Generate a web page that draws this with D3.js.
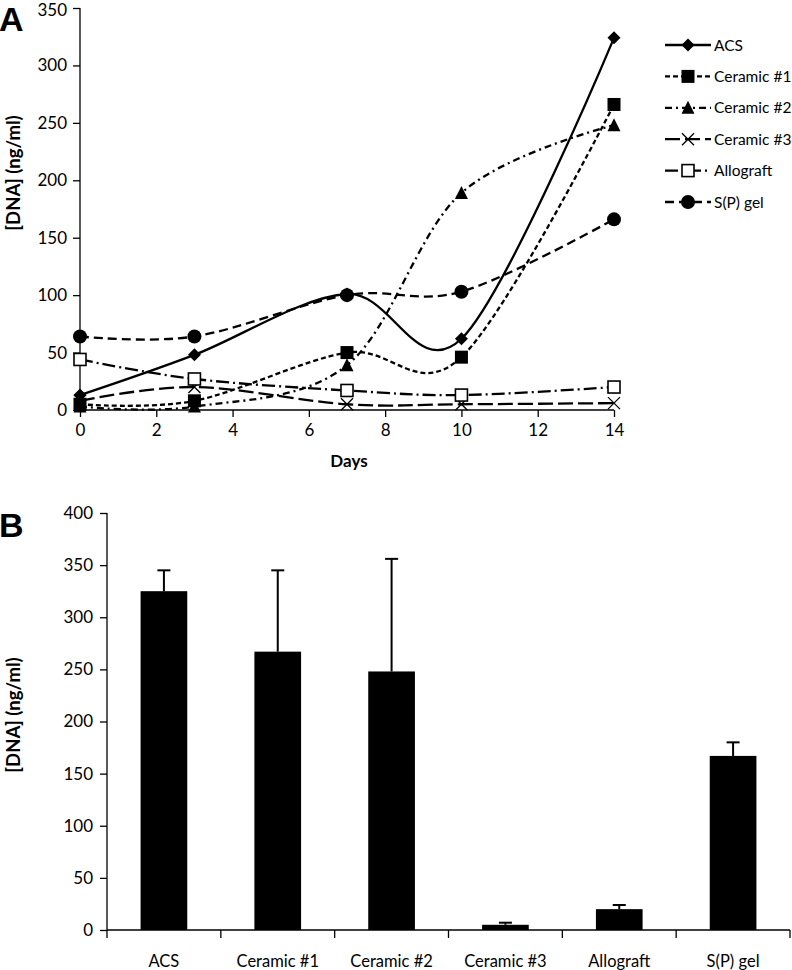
<!DOCTYPE html>
<html><head><meta charset="utf-8">
<script src="https://cdn.jsdelivr.net/npm/d3@7"></script>
<style>body{margin:0;background:#fff}svg{display:block}text{font-family:Lato,"Open Sans",sans-serif;fill:#000}</style>
</head><body>
<script>
const days = [0, 3, 7, 10, 14];
const seriesNames = ["ACS", "Ceramic #1", "Ceramic #2", "Ceramic #3", "Allograft", "S(P) gel"];
const acs = [13, 48, 101, 62, 324];
const ceramic1 = [5, 8, 50, 46, 266];
const ceramic2 = [3, 3, 39, 189, 248];
const ceramic3 = [8, 20, 5, 5, 6];
const allograft = [44, 27, 17, 13, 20];
const spgel = [64, 64, 100, 103, 166];
const xTicksA = [0, 2, 4, 6, 8, 10, 12, 14];
const yTicksA = [0, 50, 100, 150, 200, 250, 300, 350];

const barCats = ["ACS", "Ceramic #1", "Ceramic #2", "Ceramic #3", "Allograft", "S(P) gel"];
const barVals = [325, 267, 248, 5, 20, 167];
const barErr = [20, 78, 108, 2, 4, 13];
const yTicksB = [0, 50, 100, 150, 200, 250, 300, 350, 400];

const seriesVals = [acs, ceramic1, ceramic2, ceramic3, allograft, spgel];
const styles = [
  {dash: null, marker: "diamond"},
  {dash: "5,3", marker: "square"},
  {dash: "7,4,2,4", marker: "triangle"},
  {dash: "15,5", marker: "x"},
  {dash: "13,4,2,4", marker: "open"},
  {dash: "9,5", marker: "circle"}
];

const svg = d3.select("body").append("svg").attr("width", 792).attr("height", 970);

function marker(g, type, x, y) {
  if (type === "diamond") g.append("path").attr("d", `M${x},${y-6.5}L${x+6.5},${y}L${x},${y+6.5}L${x-6.5},${y}Z`).attr("fill", "#000");
  else if (type === "square") g.append("rect").attr("x", x-6.5).attr("y", y-6.5).attr("width", 13).attr("height", 13).attr("fill", "#000");
  else if (type === "triangle") g.append("path").attr("d", `M${x},${y-7}L${x+6.5},${y+6}L${x-6.5},${y+6}Z`).attr("fill", "#000");
  else if (type === "x") g.append("path").attr("d", `M${x-6},${y-6}L${x+6},${y+6}M${x+6},${y-6}L${x-6},${y+6}`).attr("stroke", "#000").attr("stroke-width", 1.3).attr("fill", "none");
  else if (type === "open") g.append("rect").attr("x", x-6).attr("y", y-6).attr("width", 12).attr("height", 12).attr("fill", "#fff").attr("stroke", "#000").attr("stroke-width", 1.6);
  else if (type === "circle") g.append("circle").attr("cx", x).attr("cy", y).attr("r", 7).attr("fill", "#000");
}

// ---------- Chart A ----------
const xA = d3.scaleLinear().domain([0, 14]).range([80, 614]);
const yA = d3.scaleLinear().domain([0, 350]).range([410, 8]);
const gA = svg.append("g");

const axYA = gA.append("g").attr("transform", "translate(80,0)")
  .call(d3.axisLeft(yA).tickValues(yTicksA).tickSize(7).tickPadding(6));
const axXA = gA.append("g").attr("transform", "translate(0,410)")
  .call(d3.axisBottom(xA).tickValues(xTicksA).tickSize(7).tickPadding(7));
[axYA, axXA].forEach(a => {
  a.select(".domain").attr("stroke", "#000").attr("stroke-width", 1.3);
  a.selectAll(".tick line").attr("stroke", "#000").attr("stroke-width", 1.3);
  a.selectAll(".tick text").style("font-size", "17px").style("font-family", "Lato");
});
axYA.selectAll(".tick text").filter(d => d === 350).attr("dy", "0.45em");
axXA.select(".domain").attr("d", "M80,0H614");
axYA.select(".domain").attr("d", "M0,410V8");

gA.append("text").attr("x", 349).attr("y", 467).attr("text-anchor", "middle")
  .style("font-size", "17px").style("font-weight", "bold").text("Days");
gA.append("text").attr("transform", "translate(20,173) rotate(-90)").attr("text-anchor", "middle")
  .style("font-size", "18.5px").style("font-weight", "bold").text("[DNA] (ng/ml)");
gA.append("text").attr("x", -1).attr("y", 31).style("font-size", "34px").style("font-weight", "bold")
  .style("font-family", "Liberation Sans, Arial").text("A");

const line = d3.line().x((d, i) => xA(days[i])).y(d => yA(d)).curve(d3.curveCardinal.tension(0));
seriesVals.forEach((vals, k) => {
  gA.append("path").attr("d", line(vals)).attr("fill", "none").attr("stroke", "#000")
    .attr("stroke-width", 2.3).attr("stroke-dasharray", styles[k].dash);
});
seriesVals.forEach((vals, k) => {
  vals.forEach((v, i) => marker(gA, styles[k].marker, xA(days[i]), yA(v)));
});

// legend
const legY = d3.scalePoint().domain(seriesNames).range([45, 202]);
seriesNames.forEach((name, k) => {
  const y = legY(name);
  gA.append("line").attr("x1", 665).attr("x2", 711).attr("y1", y).attr("y2", y)
    .attr("stroke", "#000").attr("stroke-width", 2.3).attr("stroke-dasharray", styles[k].dash);
  marker(gA, styles[k].marker, 688, y);
  gA.append("text").attr("x", 714).attr("y", y + 5.5).style("font-size", "15.5px").text(name);
});

// ---------- Chart B ----------
const xB = d3.scaleBand().domain(barCats).range([107, 790]).paddingInner(0.59).paddingOuter(0.295);
const xBticks = d3.scaleBand().domain(barCats).range([107, 790]);
const yB = d3.scaleLinear().domain([0, 400]).range([930, 513]);
const gB = svg.append("g");

const axYB = gB.append("g").attr("transform", "translate(107,0)")
  .call(d3.axisLeft(yB).tickValues(yTicksB).tickSize(7).tickPadding(7));
axYB.select(".domain").attr("d", "M0,930V513").attr("stroke", "#000").attr("stroke-width", 1.3);
axYB.selectAll(".tick line").attr("stroke", "#000").attr("stroke-width", 1.3);
axYB.selectAll(".tick text").style("font-size", "17px").style("font-family", "Lato");

gB.append("line").attr("x1", 107).attr("x2", 790).attr("y1", 930).attr("y2", 930).attr("stroke", "#000").attr("stroke-width", 1.3);
const tickPos = barCats.map(c => xBticks(c)).concat([790]);
gB.selectAll(".xt").data(tickPos).enter().append("line")
  .attr("x1", d => d).attr("x2", d => d).attr("y1", 930).attr("y2", 938)
  .attr("stroke", "#000").attr("stroke-width", 1.3);
gB.selectAll(".xl").data(barCats).enter().append("text")
  .attr("x", d => xBticks(d) + xBticks.bandwidth() / 2).attr("y", 967).attr("text-anchor", "middle")
  .style("font-size", "16.5px").text(d => d);

barCats.forEach((c, i) => {
  const cx = xB(c) + xB.bandwidth() / 2;
  gB.append("line").attr("x1", cx).attr("x2", cx).attr("y1", yB(barVals[i])).attr("y2", yB(barVals[i] + barErr[i]))
    .attr("stroke", "#000").attr("stroke-width", 2);
  gB.append("line").attr("x1", cx - 6.5).attr("x2", cx + 6.5).attr("y1", yB(barVals[i] + barErr[i])).attr("y2", yB(barVals[i] + barErr[i]))
    .attr("stroke", "#000").attr("stroke-width", 2);
});
gB.selectAll(".bar").data(barVals).enter().append("rect")
  .attr("x", (d, i) => xB(barCats[i])).attr("width", xB.bandwidth())
  .attr("y", d => yB(d)).attr("height", d => 930 - yB(d)).attr("fill", "#000");

gB.append("text").attr("transform", "translate(20,715) rotate(-90)").attr("text-anchor", "middle")
  .style("font-size", "18.5px").style("font-weight", "bold").text("[DNA] (ng/ml)");
gB.append("text").attr("x", -1).attr("y", 537).style("font-size", "34px").style("font-weight", "bold")
  .style("font-family", "Liberation Sans, Arial").text("B");
</script>
</body></html>
